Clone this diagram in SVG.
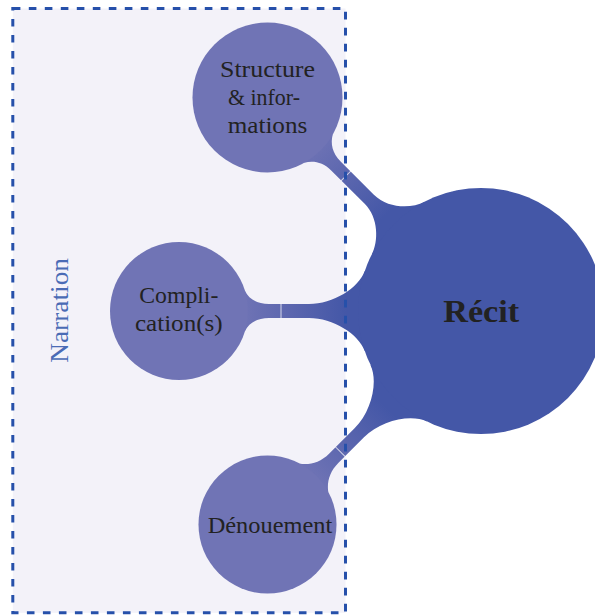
<svg xmlns="http://www.w3.org/2000/svg" width="595" height="615" viewBox="0 0 595 615">
<defs>
<style>
.child{fill:#7074B5}
.root{fill:#4457A7}
.lbl{font-family:"Liberation Serif","Times New Roman",serif;font-size:24px;fill:#222;text-anchor:middle}
.bar{fill:url(#barGrad)}
.seam{stroke:#ffffff;stroke-width:1;stroke-opacity:0.75}
</style>
<linearGradient id="barGrad" gradientUnits="userSpaceOnUse" x1="-240" y1="0" x2="-135" y2="0">
<stop offset="0" stop-color="#7074B5"/>
<stop offset="1" stop-color="#4457A7"/>
</linearGradient>
</defs>
<rect x="12.8" y="8.5" width="332.7" height="604.3" fill="#F3F2F9"/>
<g id="connectors">
<g transform="translate(481,311) rotate(45)">
<path class="bar" d="M -117.3,-37 C -121.5,-23.6 -138,-6.5 -158,-6.5 L -205,-6.5 C -217,-6.5 -225,-12 -229.7,-20 L -290,0 L -229.7,20 C -225,12 -217,6.5 -205,6.5 L -158,6.5 C -138,6.5 -121.5,23.6 -117.3,37 L -100,0 Z"/>
<line class="seam" x1="-191" y1="-7" x2="-191" y2="7"/>
</g>
<g transform="translate(481,311)">
<path class="bar" d="M -116.3,-40 C -122.2,-23 -148,-7 -172,-7 L -212,-7 C -224,-7 -232,-12 -236,-20 L -290,0 L -236,20 C -232,12 -224,7 -212,7 L -172,7 C -148,7 -122.2,23 -116.3,40 L -100,0 Z"/>
<line class="seam" x1="-200" y1="-7.5" x2="-200" y2="7.5"/>
</g>
<g transform="translate(481,311) rotate(-45)">
<path class="bar" d="M -116.3,-40 C -122.2,-23 -148,-6.5 -172,-6.5 L -208,-6.5 C -221,-6.5 -230,-12 -236,-20 L -290,0 L -236,20 C -230,12 -221,6.5 -208,6.5 L -172,6.5 C -148,6.5 -122.2,23 -116.3,40 L -100,0 Z"/>
<line class="seam" x1="-199" y1="-7" x2="-199" y2="7"/>
</g>
</g>
<g id="recit">
<circle class="root" cx="481" cy="311" r="123"/>
<text class="lbl" x="481.2" y="321.7" style="font-size:32px;font-weight:bold" textLength="76" lengthAdjust="spacingAndGlyphs">Récit</text>
</g>
<g id="structure">
<circle class="child" cx="267.5" cy="97.5" r="75"/>
<text class="lbl" x="267.5" y="76.7" textLength="95" lengthAdjust="spacingAndGlyphs">Structure</text>
<text class="lbl" x="264" y="105" textLength="72" lengthAdjust="spacingAndGlyphs">&amp; infor-</text>
<text class="lbl" x="267.5" y="132.7" textLength="79.6" lengthAdjust="spacingAndGlyphs">mations</text>
</g>
<g id="complication">
<circle class="child" cx="179" cy="311" r="69"/>
<text class="lbl" x="178.8" y="302.7" textLength="79" lengthAdjust="spacingAndGlyphs">Compli-</text>
<text class="lbl" x="178.8" y="330.7" textLength="87.7" lengthAdjust="spacingAndGlyphs">cation(s)</text>
</g>
<g id="denouement">
<circle class="child" cx="267.5" cy="524.5" r="69"/>
<text class="lbl" x="270" y="533.3" textLength="124.6" lengthAdjust="spacingAndGlyphs">Dénouement</text>
</g>
<g id="narration">
<rect x="12.8" y="8.5" width="332.7" height="604.3" fill="none" stroke="#2650AA" stroke-width="3" stroke-dasharray="7.6 8.4"/>
<text transform="translate(67.5,310.4) rotate(-90)" x="0" y="0" style="font-family:'Liberation Serif','Times New Roman',serif;font-size:24.5px;fill:#4A6BB5;text-anchor:middle" textLength="104.7" lengthAdjust="spacingAndGlyphs">Narration</text>
</g>
</svg>
